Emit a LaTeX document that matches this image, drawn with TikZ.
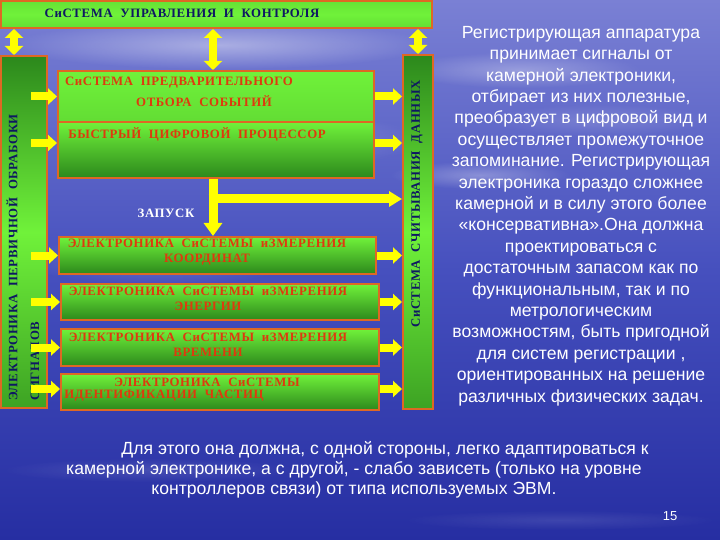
\documentclass[tikz,border=0pt]{standalone}
\usepackage{fontspec}
\setmainfont{Liberation Sans}
\newfontfamily\boxfont{Liberation Serif}[LetterSpace=5,WordSpace=2]
\usetikzlibrary{arrows.meta,calc,fadings}
\tikzfading[name=softblob, inner color=transparent!0, outer color=transparent!100]
\definecolor{bgtop}{RGB}{122,128,212}
\definecolor{bgmid}{RGB}{70,80,190}
\definecolor{bgbot}{RGB}{38,46,162}
\definecolor{glight}{RGB}{112,242,58}
\definecolor{gdark}{RGB}{44,136,28}
\definecolor{borange}{RGB}{222,104,36}
\definecolor{txtred}{RGB}{222,58,14}
\definecolor{txtnavy}{RGB}{14,24,98}
\definecolor{ayellow}{RGB}{255,255,0}
\tikzset{
  gbox/.style={draw=borange, line width=2pt, top color=glight, bottom color=gdark, anchor=north west, inner sep=0pt},
  vbar/.style={draw=borange, line width=2pt, anchor=north west, inner sep=0pt, top color=gdark, bottom color=gdark!75!glight, middle color=glight},
  btxt/.style={font=\boxfont\bfseries\fontsize{12.8}{15}\selectfont, text=txtred, inner sep=0pt, align=center},
  ntxt/.style={font=\boxfont\bfseries\fontsize{12.8}{15}\selectfont, text=txtnavy, inner sep=0pt},
  wtxt/.style={text=white, inner sep=0pt, align=center},
  harrow/.style={ayellow, line width=8pt, -{Triangle[width=16pt,length=9pt]}},
  darrow/.style={ayellow, line width=8pt, {Triangle[width=18pt,length=9pt]}-{Triangle[width=18pt,length=9pt]}},
  varrow/.style={ayellow, line width=9pt, -{Triangle[width=18pt,length=13pt]}},
  cloud/.style={white, path fading=softblob}
}
\begin{document}
\begin{tikzpicture}[x=1pt,y=-1pt]
\useasboundingbox (0,0) rectangle (720,540);
% background
\shade[top color=bgtop, bottom color=bgbot, middle color=bgmid] (0,0) rectangle (720,540);
\fill[cloud, opacity=0.4] (220,45) ellipse (210 and 24);
\fill[cloud, opacity=0.3] (520,70) ellipse (120 and 18);
\fill[cloud, opacity=0.3] (480,175) ellipse (90 and 14);
\fill[cloud, opacity=0.25] (250,140) ellipse (170 and 30);
\fill[cloud, opacity=0.2] (160,260) ellipse (140 and 25);
\fill[cloud, opacity=0.15] (600,120) ellipse (110 and 16);
\fill[cloud, opacity=0.12] (150,470) ellipse (150 and 12);
\fill[cloud, opacity=0.10] (560,520) ellipse (160 and 10);

% boxes
\node[gbox, minimum width=431pt, minimum height=27pt, top color=glight!85!gdark, bottom color=glight!80!gdark, middle color=glight] (top) at (0,0) {};
\node[vbar, minimum width=46pt, minimum height=352pt] (lb) at (0,55) {};
\node[vbar, minimum width=30pt, minimum height=354pt] (rb) at (402,54) {};
\node[gbox, minimum width=316pt, minimum height=51pt, bottom color=glight!80!gdark] (b1a) at (57,70) {};
\node[gbox, minimum width=316pt, minimum height=56pt] (b1b) at (57,121) {};
\node[gbox, minimum width=317pt, minimum height=37pt] (b2) at (58,236) {};
\node[gbox, minimum width=318pt, minimum height=36pt] (b3) at (60,283) {};
\node[gbox, minimum width=318pt, minimum height=37pt] (b4) at (60,328) {};
\node[gbox, minimum width=318pt, minimum height=36pt] (b5) at (60,373) {};

% texts in boxes
\node[ntxt] (ttop) at (182,13) {СиСТЕМА УПРАВЛЕНИЯ И КОНТРОЛЯ};
\node[ntxt, rotate=90, anchor=west] (tlb1) at (12,401) {ЭЛЕКТРОНИКА ПЕРВИЧНОЙ ОБРАБОКИ};
\node[ntxt, rotate=90, anchor=west] (tlb2) at (35,401) {СИГНАЛОВ};
\node[ntxt, rotate=90] (trb) at (417,204) {СиСТЕМА СЧИТЫВАНИЯ ДАННЫХ};
\node[btxt] (t1a) at (179,83) {СиСТЕМА ПРЕДВАРИТЕЛЬНОГО};
\node[btxt] (t1b) at (204,101) {ОТБОРА СОБЫТИЙ};
\node[btxt] (t1c) at (197,134) {БЫСТРЫЙ ЦИФРОВОЙ ПРОЦЕССОР};
\node[btxt] (t2) at (207,252.5) {ЭЛЕКТРОНИКА СиСТЕМЫ иЗМЕРЕНИЯ\\КООРДИНАТ};
\node[btxt] (t3) at (208,298.5) {ЭЛЕКТРОНИКА СиСТЕМЫ иЗМЕРЕНИЯ\\ЭНЕРГИИ};
\node[btxt] (t4) at (208,344.5) {ЭЛЕКТРОНИКА СиСТЕМЫ иЗМЕРЕНИЯ\\ВРЕМЕНИ};
\node[btxt] (t5a) at (207,382) {ЭЛЕКТРОНИКА СиСТЕМЫ};
\node[btxt] (t5b) at (164,396) {ИДЕНТИФИКАЦИИ ЧАСТИЦ};
\node[btxt, text=white] (zap) at (166,213) {ЗАПУСК};

% arrows
\draw[darrow] ($(lb.north west)+(14,0)$) -- ($(top.south west)+(14,0)$);
\draw[darrow] (rb.north) -- (rb.north |- top.south);
\draw[darrow] ($(b1a.north)+(-3,0)$) -- ($(b1a.north |- top.south)+(-3,0)$);
\draw[varrow] ($(b1b.south)+(-3,0)$) -- ($(b2.north)+(-4.5,0)$);
\draw[harrow, line width=9pt, -{Triangle[width=15pt,length=13pt]}] ($(b1b.south)+(-7.5,20)$) -- (rb.west |- {$(b1b.south)+(0,20)$});
\foreach \blk/\dy in {b1a/0, b1b/-7, b2/0, b3/0, b4/0, b5/-3}{
  \draw[harrow] ($(\blk.west -| lb.east)+(-17,\dy)$) -- ($(\blk.west)+(0,\dy)$);
  \draw[harrow] ($(\blk.east)+(0,\dy)$) -- ($(\blk.east -| rb.west)+(0,\dy)$);
}

% right paragraph
\node[wtxt, anchor=north, font=\fontsize{17.6}{21.4}\selectfont] (para) at (581,26) {Регистрирующая аппаратура\\принимает сигналы от\\камерной электроники,\\отбирает из них полезные,\\преобразует в цифровой вид и\\осуществляет промежуточное\\запоминание. Регистрирующая\\электроника гораздо сложнее\\камерной и в силу этого более\\«консервативна».Она должна\\проектироваться с\\достаточным запасом как по\\функциональным, так и по\\метрологическим\\возможностям, быть пригодной\\для систем регистрации ,\\ориентированных на решение\\различных физических задач.};

% bottom paragraph
\node[wtxt, anchor=north, font=\fontsize{17.6}{20.3}\selectfont] (bot) at (354,441) {\hspace*{62pt}Для этого она должна, с одной стороны, легко адаптироваться к\\камерной электронике, а с другой, - слабо зависеть (только на уровне\\контроллеров связи) от типа используемых ЭВМ.};
\node[wtxt, font=\fontsize{13}{15}\selectfont] (pg) at (670,516) {15};
\end{tikzpicture}
\end{document}
